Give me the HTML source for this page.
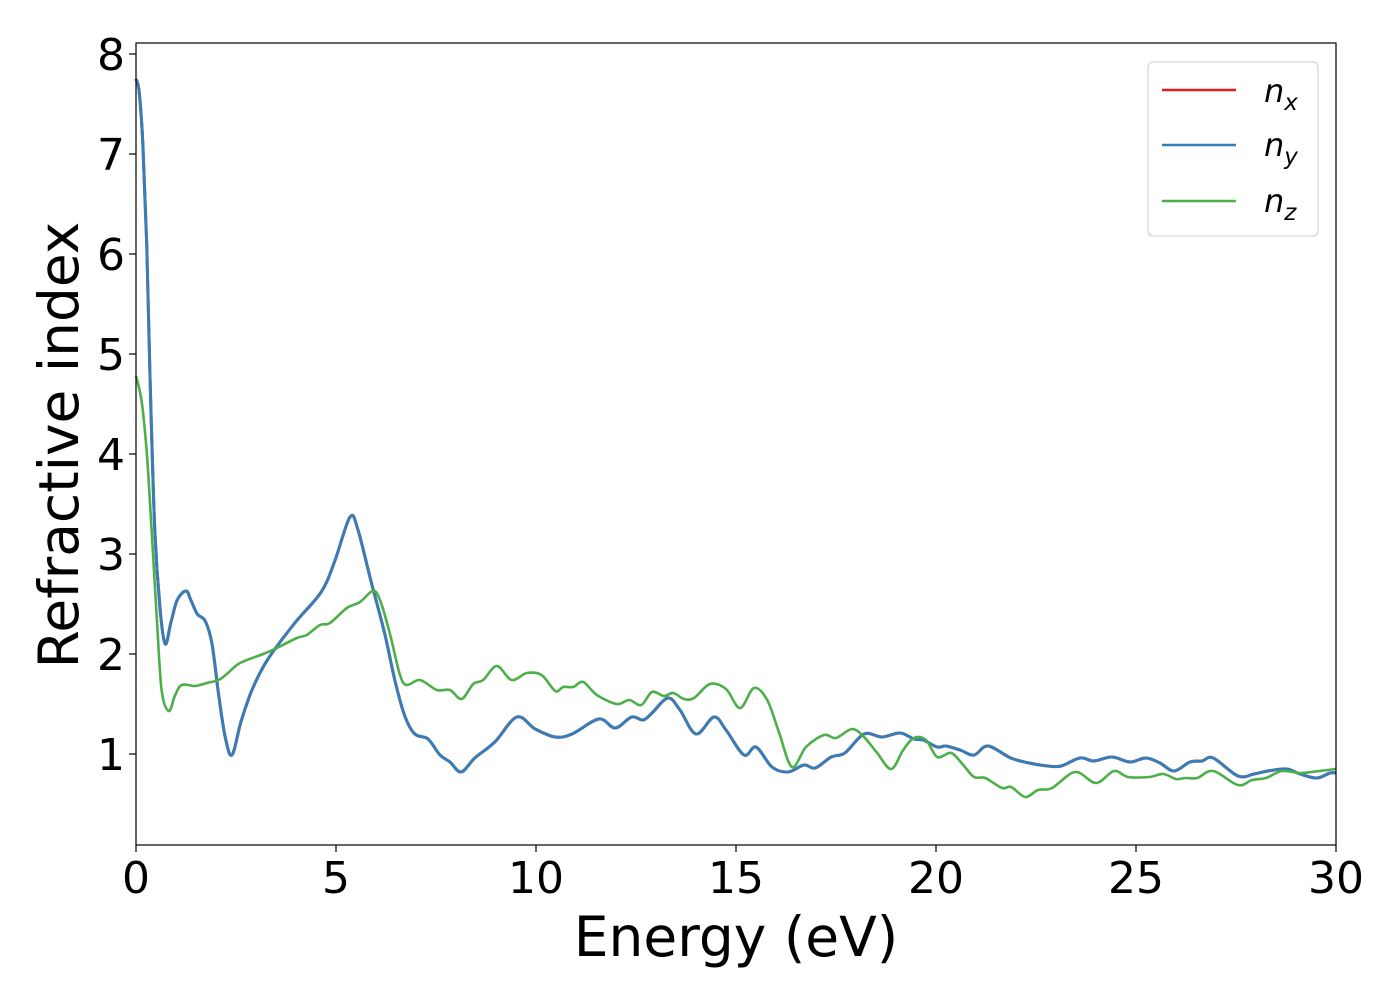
<!DOCTYPE html>
<html><head><meta charset="utf-8"><style>
html,body{margin:0;padding:0;background:#fff;}
svg text{font-family:"DejaVu Sans","Liberation Sans",sans-serif;fill:#000;}
</style></head><body>
<svg id="chart" width="1400" height="1000" viewBox="0 0 1400 1000" xmlns="http://www.w3.org/2000/svg">
<rect x="0" y="0" width="1400" height="1000" fill="#fff"/>
<g id="plot"></g>
<g id="axes"></g>
<rect x="136" y="43" width="1200" height="802" fill="none" stroke="#000" stroke-width="1.2"/>
<text x="736" y="956" font-size="55" text-anchor="middle">Energy (eV)</text>
<text transform="translate(78,445) rotate(-90)" font-size="55" text-anchor="middle">Refractive index</text>
<g>
<rect x="1148" y="62" width="170" height="174" rx="5" fill="#fff" fill-opacity="0.8" stroke="#ccc"/>
<g><line x1="1162" y1="90" x2="1236" y2="90" stroke="#e41a1c" stroke-width="2.5"/><text x="1264" y="102" font-size="32" font-style="italic">n<tspan font-size="23" dy="8">x</tspan></text></g>
<g><line x1="1162" y1="145" x2="1236" y2="145" stroke="#377eb8" stroke-width="2.5"/><text x="1264" y="156" font-size="32" font-style="italic">n<tspan font-size="23" dy="8">y</tspan></text></g>
<g><line x1="1162" y1="201" x2="1236" y2="201" stroke="#4daf4a" stroke-width="2.5"/><text x="1264" y="212" font-size="32" font-style="italic">n<tspan font-size="23" dy="8">z</tspan></text></g>
</g>
</svg>
<script>
const xTicks = [0,5,10,15,20,25,30];
const yTicks = [1,2,3,4,5,6,7,8];
const energyXY = [0,0.08,0.17,0.27,0.35,0.47,0.6,0.73,0.87,1.03,1.25,1.37,1.53,1.73,1.9,2.07,2.23,2.4,2.63,2.92,3.3,3.97,4.63,4.97,5.35,5.55,5.88,6.22,6.47,6.72,6.97,7.3,7.6,7.85,8.13,8.47,8.97,9.52,9.98,10.48,10.9,11.57,11.98,12.39,12.68,12.9,13.3,13.6,14.0,14.45,14.75,15.2,15.5,15.9,16.3,16.7,16.98,17.38,17.72,18.2,18.65,19.1,19.45,19.68,20.03,20.25,20.6,20.95,21.3,21.87,22.33,22.8,23.13,23.6,23.95,24.4,24.85,25.25,25.6,25.95,26.35,26.65,26.93,27.55,27.95,28.3,28.77,29.1,29.52,29.85,30];
const nXY = [7.75,7.62,7.11,6.07,4.78,3.24,2.46,2.1,2.31,2.54,2.63,2.54,2.4,2.33,2.1,1.58,1.17,0.99,1.33,1.66,1.95,2.31,2.62,2.93,3.37,3.24,2.72,2.2,1.74,1.38,1.2,1.15,0.99,0.92,0.82,0.96,1.12,1.37,1.25,1.17,1.2,1.35,1.26,1.37,1.34,1.41,1.56,1.44,1.2,1.37,1.24,0.99,1.07,0.87,0.82,0.89,0.86,0.97,1.01,1.2,1.17,1.21,1.15,1.14,1.07,1.08,1.04,0.99,1.08,0.96,0.91,0.88,0.88,0.96,0.93,0.97,0.92,0.96,0.91,0.83,0.92,0.93,0.96,0.78,0.8,0.83,0.85,0.8,0.76,0.81,0.81];
const energyZ = [0,0.14,0.27,0.39,0.52,0.64,0.82,0.97,1.14,1.48,1.77,2.06,2.27,2.6,3.18,3.52,4.02,4.27,4.6,4.85,5.27,5.6,5.92,6.1,6.35,6.6,6.77,7.1,7.52,7.85,8.14,8.43,8.68,9.02,9.39,9.77,10.14,10.48,10.68,10.93,11.18,11.52,12.02,12.33,12.63,12.9,13.2,13.43,13.7,13.95,14.35,14.75,15.1,15.45,15.78,16.08,16.4,16.75,17.2,17.5,17.9,18.2,18.53,18.88,19.18,19.45,19.75,20.03,20.38,20.68,20.95,21.23,21.65,21.88,22.23,22.55,22.9,23.48,24.0,24.45,24.8,25.33,25.68,26.0,26.23,26.53,26.93,27.55,27.9,28.25,28.65,29.1,29.58,30];
const nZ = [4.78,4.53,4.01,3.24,2.36,1.64,1.43,1.58,1.69,1.68,1.71,1.74,1.8,1.91,2.0,2.06,2.16,2.19,2.29,2.31,2.46,2.52,2.63,2.54,2.2,1.79,1.69,1.74,1.64,1.64,1.55,1.7,1.74,1.88,1.74,1.81,1.79,1.63,1.67,1.67,1.72,1.59,1.5,1.54,1.49,1.62,1.58,1.61,1.55,1.56,1.7,1.65,1.46,1.66,1.54,1.21,0.87,1.07,1.19,1.16,1.25,1.17,1.01,0.85,1.04,1.16,1.14,0.97,1.01,0.89,0.77,0.76,0.66,0.67,0.57,0.64,0.66,0.82,0.71,0.83,0.77,0.77,0.8,0.75,0.76,0.76,0.83,0.69,0.74,0.76,0.83,0.81,0.83,0.85];

const X0=136,X1=1336,Y0=845,Y1=43,XMIN=0,XMAX=30,YMIN=0.09,YMAX=8.11;
function sx(v){return X0+(v-XMIN)/(XMAX-XMIN)*(X1-X0);}
function sy(v){return Y0-(v-YMIN)/(YMAX-YMIN)*(Y0-Y1);}
const NS='http://www.w3.org/2000/svg';
function smoothPath(xs,ys){
  const p=xs.map((x,i)=>[sx(x),sy(ys[i])]);
  let d='M'+p[0][0].toFixed(1)+','+p[0][1].toFixed(1);
  for(let i=0;i<p.length-1;i++){
    const a=p[Math.max(0,i-1)],b=p[i],c=p[i+1],e=p[Math.min(p.length-1,i+2)];
    const c1x=b[0]+(c[0]-a[0])/6,c1y=b[1]+(c[1]-a[1])/6;
    const c2x=c[0]-(e[0]-b[0])/6,c2y=c[1]-(e[1]-b[1])/6;
    d+=' C'+c1x.toFixed(1)+','+c1y.toFixed(1)+' '+c2x.toFixed(1)+','+c2y.toFixed(1)+' '+c[0].toFixed(1)+','+c[1].toFixed(1);
  }
  return d;
}
const plot=document.getElementById('plot');
const axes=document.getElementById('axes');
function addLine(xs,ys,color,w,name){
  const el=document.createElementNS(NS,'path');
  el.setAttribute('d',smoothPath(xs,ys));
  el.setAttribute('fill','none');
  el.setAttribute('stroke',color);
  el.setAttribute('stroke-width',w);
  el.setAttribute('stroke-linejoin','round');
  
  
  plot.appendChild(el);
}
addLine(energyXY,nXY,'#e41a1c',3,'series-nx');
addLine(energyXY,nXY,'#377eb8',3,'series-ny');
addLine(energyZ,nZ,'#4daf4a',2.6,'series-nz');

xTicks.forEach(t=>{
  const x=sx(t);
  const l=document.createElementNS(NS,'line');
  l.setAttribute('x1',x);l.setAttribute('x2',x);l.setAttribute('y1',Y0);l.setAttribute('y2',Y0+7);
  l.setAttribute('stroke','#000');l.setAttribute('stroke-width','1.2');
  
  
  axes.appendChild(l);
  const tx=document.createElementNS(NS,'text');
  tx.setAttribute('x',x);tx.setAttribute('y',Y0+48);
  tx.setAttribute('font-size','44');tx.setAttribute('text-anchor','middle');
  tx.textContent=t;
  
  
  axes.appendChild(tx);
});
yTicks.forEach(t=>{
  const y=sy(t);
  const l=document.createElementNS(NS,'line');
  l.setAttribute('x1',X0-7);l.setAttribute('x2',X0);l.setAttribute('y1',y);l.setAttribute('y2',y);
  l.setAttribute('stroke','#000');l.setAttribute('stroke-width','1.2');
  
  
  axes.appendChild(l);
  const tx=document.createElementNS(NS,'text');
  tx.setAttribute('x',X0-11);tx.setAttribute('y',y+16);
  tx.setAttribute('font-size','44');tx.setAttribute('text-anchor','end');
  tx.textContent=t;
  
  
  axes.appendChild(tx);
});
</script>
</body></html>
